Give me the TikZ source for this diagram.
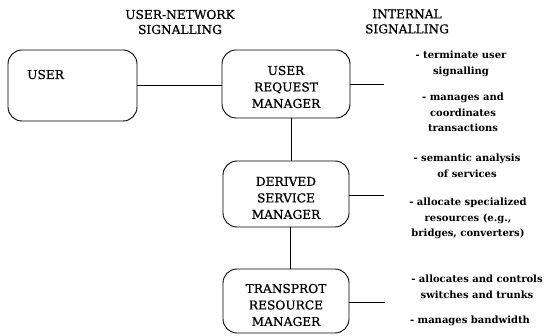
\documentclass[tikz,border=0pt]{standalone}
\usepackage{fontspec}
\setmainfont{DejaVu Serif}
\newfontfamily\capsfont{DejaVu Serif}[FakeBold=0.7]
\begin{document}
\begin{tikzpicture}[x=1pt,y=-1pt,
  box/.style={draw, line width=0.9pt, rounded corners=14pt, inner sep=0pt},
  boxtext/.style={align=center, inner sep=0pt,
    font=\capsfont\fontsize{12.2}{16.5}\selectfont},
  head/.style={align=center, inner sep=0pt,
    font=\capsfont\fontsize{12.2}{15}\selectfont},
  note/.style={align=center, anchor=north, inner sep=0pt,
    font=\bfseries\fontsize{10}{15.5}\selectfont},
  wire/.style={line width=0.9pt}]
\useasboundingbox (0,0) rectangle (545,336);

% column headings
\node[head] (hun) at (180,22) {USER-NETWORK\\SIGNALLING};
\node[head] (hin) at (407,21.5) {INTERNAL\\SIGNALLING};

% boxes
\node[box, minimum width=129pt, minimum height=71pt] (user) at (72.5,85.5) {};
\node[boxtext, anchor=base west] (userlbl) at (27,79) {USER};
\node[box, minimum width=128pt, minimum height=68pt] (urm) at (286,84) {};
\node[box, minimum width=126pt, minimum height=66pt] (dsm) at (286,194) {};
\node[box, minimum width=126pt, minimum height=64pt] (trm) at (286,301) {};

% box titles, set a little below the box centres
\node[boxtext] (urmt) at ([yshift=-3pt]urm.center) {USER\\REQUEST\\MANAGER};
\node[boxtext] (dsmt) at ([yshift=-4pt]dsm.center) {DERIVED\\SERVICE\\MANAGER};
\node[boxtext] (trmt) at ([yshift=-4pt]trm.center) {TRANSPROT\\RESOURCE\\MANAGER};

% free ends of the internal signalling lines
\coordinate (e1) at (384,84);
\coordinate (e2) at (384,195);
\coordinate (e3) at (385,302);

% connectors
\draw[wire] (user.east) -- (user.east -| urm.west);
\draw[wire] ([xshift=5pt]urm.south) -- ([xshift=5pt]urm.south |- dsm.north);
\draw[wire] ([xshift=4pt]dsm.south) -- ([xshift=4pt]dsm.south |- trm.north);
\draw[wire] (urm.east |- e1) -- (e1);
\draw[wire] (dsm.east |- e2) -- (e2);
\draw[wire] (trm.east |- e3) -- (e3);

% functions of each manager
\node[note] (n1) at (461,51) {- terminate user\\signalling};
\node[note] (n2) at (463,93) {- manages and\\coordinates\\transactions};
\node[note] (n3) at (467,154) {- semantic analysis\\of services};
\node[note] (n4) at (468,198) {- allocate specialized\\resources (e.g.,\\bridges, converters)};
\node[note] (n5) at (477,275) {- allocates and controls\\switches and trunks};
\node[note] (n6) at (470,316) {- manages bandwidth};
\end{tikzpicture}
\end{document}
